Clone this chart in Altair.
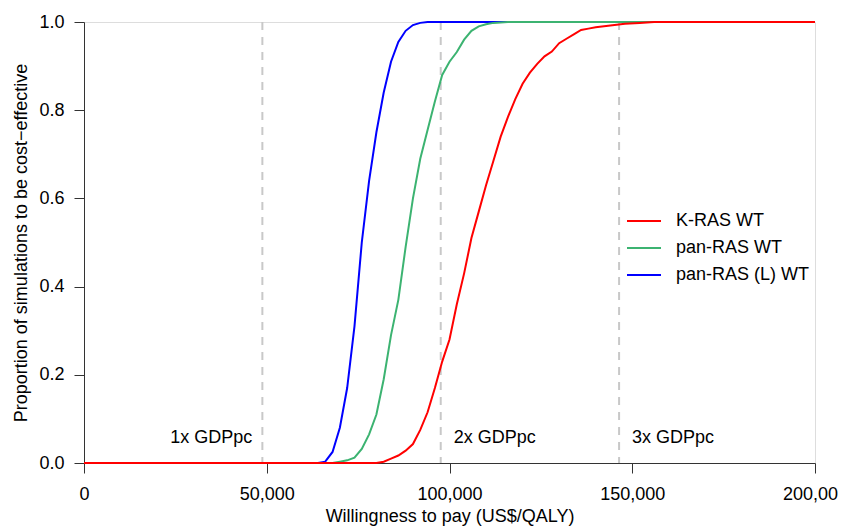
import altair as alt
import pandas as pd

# Willingness to pay (thousand US$/QALY) and proportion cost-effective
kras_x = [0, 80, 82, 84, 86, 88, 90, 92, 94, 96, 98, 100, 102, 104, 106, 108, 110, 112, 114, 116,
          118, 120, 122, 124, 126, 128, 130, 132, 134, 136, 138, 140, 144, 148, 152, 156, 200]
kras_y = [0, 0, 0.003, 0.01, 0.017, 0.028, 0.043, 0.075, 0.115, 0.17, 0.23, 0.28, 0.36, 0.43, 0.51,
          0.57, 0.63, 0.685, 0.74, 0.785, 0.825, 0.86, 0.885, 0.905, 0.922, 0.933, 0.952, 0.962,
          0.972, 0.982, 0.985, 0.988, 0.992, 0.996, 0.998, 1, 1]

pan_x = [0, 68, 70, 72, 74, 76, 78, 80, 82, 84, 86, 88, 90, 92, 94, 96, 98, 100, 102, 104, 106,
         108, 110, 112, 114, 116, 200]
pan_y = [0, 0, 0.003, 0.006, 0.012, 0.032, 0.065, 0.11, 0.19, 0.29, 0.37, 0.49, 0.60, 0.69, 0.755,
         0.82, 0.88, 0.91, 0.932, 0.96, 0.98, 0.99, 0.995, 0.998, 0.999, 1, 1]

panl_x = [0, 64, 66, 68, 70, 72, 74, 76, 78, 80, 82, 84, 86, 88, 90, 92, 94, 96, 200]
panl_y = [0, 0, 0.003, 0.025, 0.08, 0.17, 0.31, 0.50, 0.64, 0.75, 0.84, 0.91, 0.955, 0.98, 0.993,
          0.998, 1, 1, 1]

series_names = ["K-RAS WT", "pan-RAS WT", "pan-RAS (L) WT"]
series_colors = ["#FF0000", "#3CB371", "#0000FF"]

gdp_x = [48800, 97600, 146400]
gdp_labels = ["1x GDPpc", "2x GDPpc", "3x GDPpc"]

FONT = "Liberation Sans"
FS = 18

def frame(xs, ys, name):
    return pd.DataFrame({"wtp": [v * 1000 for v in xs], "p": ys, "series": name})

df_blue = frame(panl_x, panl_y, series_names[2])
df_green = frame(pan_x, pan_y, series_names[1])
df_red = frame(kras_x, kras_y, series_names[0])

xscale = alt.Scale(domain=[0, 200000], nice=False, zero=False)
yscale = alt.Scale(domain=[0, 1], nice=False)
cscale = alt.Scale(domain=series_names, range=series_colors)

xaxis = alt.Axis(title="Willingness to pay (US$/QALY)", values=[0, 50000, 100000, 150000, 200000],
                 format=",.0f", grid=False, tickSize=10, labelPadding=12, titlePadding=4,
                 labelFlush=False, labelOverlap=False,
                 domainColor="#333333", tickColor="#333333", labelColor="#000000",
                 labelFontSize=FS, titleFontSize=FS, titleFontWeight="normal",
                 labelFont=FONT, titleFont=FONT, titleColor="#000000", domainWidth=1, tickWidth=1)
yaxis = alt.Axis(title="Proportion of simulations to be cost\u2212effective",
                 values=[0, 0.2, 0.4, 0.6, 0.8, 1.0], format=".1f", grid=False, tickSize=10,
                 labelPadding=10, titlePadding=8, labelFlush=False, labelOverlap=False,
                 domainColor="#333333", tickColor="#333333",
                 labelColor="#000000", labelFontSize=FS, titleFontSize=FS, titleFontWeight="normal",
                 labelFont=FONT, titleFont=FONT, titleColor="#000000", domainWidth=1, tickWidth=1)

rules = alt.Chart(pd.DataFrame({"wtp": gdp_x})).mark_rule(
    color="#C8C8C8", strokeWidth=2, strokeDash=[8, 7]
).encode(x=alt.X("wtp:Q", scale=xscale, axis=xaxis))

lab_df = pd.DataFrame({"wtp": gdp_x, "label": gdp_labels})
text_left = alt.Chart(lab_df.iloc[:1]).mark_text(
    align="right", baseline="middle", dx=-10, fontSize=FS, font=FONT, color="#000000"
).encode(x=alt.X("wtp:Q", scale=xscale), y=alt.value(416), text="label:N")
text_right = alt.Chart(lab_df.iloc[1:]).mark_text(
    align="left", baseline="middle", dx=13, fontSize=FS, font=FONT, color="#000000"
).encode(x=alt.X("wtp:Q", scale=xscale), y=alt.value(416), text="label:N")

def line(df, legend=None):
    return alt.Chart(df).mark_line(strokeWidth=2, clip=False).encode(
        x=alt.X("wtp:Q", scale=xscale, axis=xaxis),
        y=alt.Y("p:Q", scale=yscale, axis=yaxis),
        color=alt.Color("series:N", scale=cscale, legend=legend),
    )

legend = alt.Legend(title=None, orient="none", legendX=542, legendY=181, symbolType="stroke",
                    symbolSize=1156, symbolStrokeWidth=2, labelFontSize=FS, labelFont=FONT,
                    labelColor="#000000", rowPadding=0, labelOffset=14, padding=0)

chart = alt.layer(
    rules, text_left, text_right,
    line(df_blue, legend), line(df_green, legend), line(df_red, legend),
).properties(
    width=731, height=441,
    autosize=alt.AutoSizeParams(type="none"),
    padding={"left": 76, "top": 14, "right": 23, "bottom": 64},
).configure_view(stroke=None).configure(background="white")

chart.save("out.html", embed_options={"renderer": "svg", "actions": False})
